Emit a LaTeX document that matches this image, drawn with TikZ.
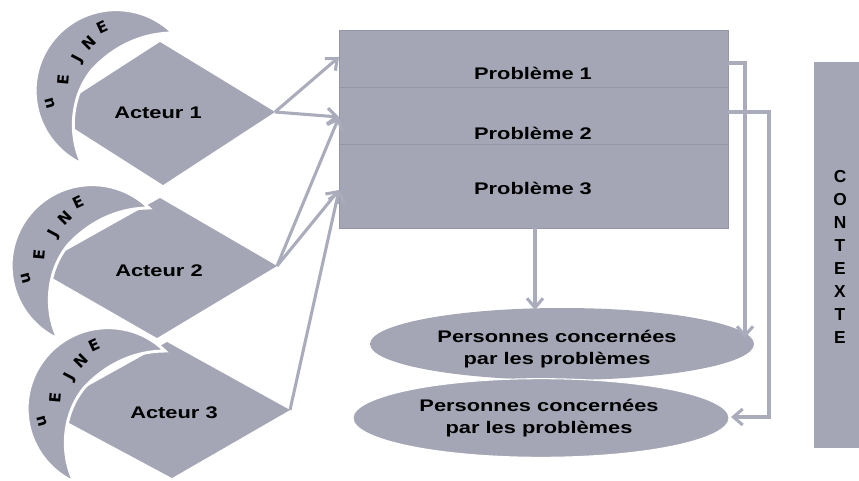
\documentclass[tikz,border=0pt]{standalone}
\usepackage{fontspec}
\setmainfont{Liberation Sans}
\newfontfamily\lab[FakeStretch=1.3]{Liberation Sans}
\newfontfamily\heavy{DejaVu Sans}
\usetikzlibrary{arrows.meta,shapes.geometric}
\definecolor{shape}{RGB}{164,166,181}
\definecolor{linkc}{RGB}{170,172,188}
\definecolor{edgec}{RGB}{148,150,166}
\newcommand{\MyCrescent}[3]{%
  \begin{scope}[shift={(#1,#2)}]
    \path[fill=shape, draw=white, line width=2.2pt]
      (173,33) arc[start angle=-45.4, end angle=-245.2, radius=81]
      .. controls (70,140) and (68,100) .. (92,70)
      .. controls (117,43) and (147,33) .. (173,33) -- cycle;
    \node[letter, rotate=25] (#3a) at (102,27) {E};
    \node[letter, rotate=45] (#3b) at (89,43) {N};
    \node[letter, rotate=62] (#3c) at (78,59) {J};
    \node[letter, rotate=85] (#3d) at (63,80) {E};
    \node[letter, rotate=105] (#3e) at (50,103) {u};
  \end{scope}}
\begin{document}
\begin{tikzpicture}[x=0.75pt,y=-0.75pt,
  letter/.style={font=\heavy\bfseries\fontsize{11.5}{12}\selectfont, inner sep=0pt},
  lbl/.style={font=\lab\bfseries\fontsize{12.6}{16.5}\selectfont, align=center, inner sep=0pt},
  ctx/.style={font=\bfseries\fontsize{13}{17.2}\selectfont, align=center, inner sep=0pt},
  box/.style={fill=shape, draw=edgec, line width=0.4pt},
  link/.style={draw=linkc, line width=2.3pt, -{Straight Barb[length=7pt,width=12pt]}}]
\useasboundingbox (0,0) rectangle (859,481);

% diamonds
\path[fill=shape] (160,42) -- (275,112) -- (163,185) -- (50,113) -- cycle;
\path[fill=shape] (160,198) -- (277,266) -- (157,338) -- (35,268) -- cycle;
\path[fill=shape] (167,342) -- (290,410) -- (172,478) -- (45,410) -- cycle;

% crescents
\MyCrescent{0}{0}{c1}
\MyCrescent{-24}{175}{c2}
\MyCrescent{-8}{318}{c3}

\node[lbl] (a1) at (158,113) {Acteur 1};
\node[lbl] (a2) at (159,271) {Acteur 2};
\node[lbl] (a3) at (174,413) {Acteur 3};

% problem boxes
\path[box] (339,30) rectangle (728,144);
\path[box] (339,87) rectangle (728,200);
\path[box] (339,144) rectangle (728,228);
\node[lbl] (p1) at (533,73) {Problème 1};
\node[lbl] (p2) at (533,133) {Problème 2};
\node[lbl] (p3) at (533,188) {Problème 3};

% ellipses
\node[ellipse, fill=shape, minimum width=288pt, minimum height=54pt, inner sep=0pt] (e1) at (562,344) {};
\node[ellipse, fill=shape, draw=white, line width=0.8pt, minimum width=282pt, minimum height=59pt, inner sep=0pt] (e2) at (541,418) {};
\node[lbl] (t1) at (557,349) {Personnes concernées\\par les problèmes};
\node[lbl] (t2) at (539,418.5) {Personnes concernées\\par les problèmes};

% context
\path[fill=shape] (814,62) rectangle (860,448);
\node[ctx] (ctx) at (840,257) {C\\O\\N\\T\\E\\X\\T\\E};

% connector points
\coordinate (a1r) at (275,112);
\coordinate (a2r) at (277,266);
\coordinate (a3r) at (290,410);
\coordinate (p1w) at (339,57);
\coordinate (p2w) at (339,117);
\coordinate (p3w) at (339,190);
\coordinate (pb) at (535,228);
\coordinate (e1t) at (535,310);
\coordinate (r1) at (728,63);
\coordinate (e1r) at (745,338);
\coordinate (r2) at (728,112);
\coordinate (k1) at (769,112);
\coordinate (k2) at (769,417);
\coordinate (e2r) at (731,417);

\draw[link] (a1r) -- (p1w);
\draw[link] (a1r) -- (p2w);
\draw[link] (a2r) -- (p2w);
\draw[link] (a2r) -- (p3w);
\draw[link] (a3r) -- (p3w);
\draw[link] (pb) -- (e1t);
\draw[link] (r2) -- (k1) -- (k2) -- (e2r);
\draw[link] (r1) -| (e1r);
\end{tikzpicture}
\end{document}
